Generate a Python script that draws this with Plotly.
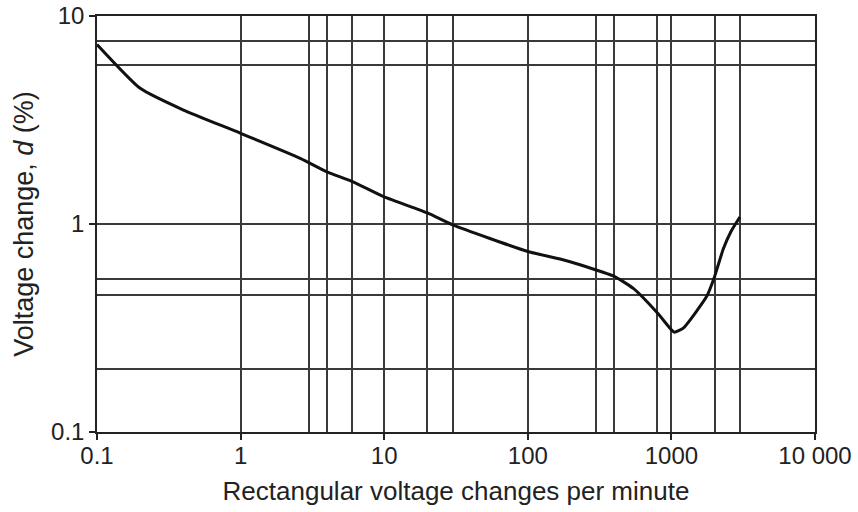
import plotly.graph_objects as go

# Curve
rate = [0.1, 0.2, 0.4, 1, 2.6, 4, 6, 10, 20, 30, 100, 168, 231, 400, 543, 800, 1000, 1050, 1210, 1762, 2000, 2300, 2600, 3000]
d_pct = [7.3, 4.49, 3.53, 2.73, 2.07, 1.78, 1.60, 1.35, 1.13, 0.99, 0.738, 0.679, 0.637, 0.56, 0.49, 0.373, 0.31, 0.302, 0.316, 0.449, 0.56, 0.76, 0.92, 1.08]

x_major = [0.1, 1, 10, 100, 1000, 10000]
x_major_text = ["0.1", "1", "10", "100", "1000", "10 000"]
x_minor = [3, 4, 6, 20, 30, 300, 400, 800, 2000, 3000]
y_major = [0.1, 1, 10]
y_major_text = ["0.1", "1", "10"]
y_minor = [0.2, 0.455, 0.545, 5.8, 7.6]

ink = "#222222"
grid = "#3a3a3a"
font = "Liberation Sans, Arial, sans-serif"

fig = go.Figure()
fig.add_trace(go.Scatter(x=rate, y=d_pct, mode="lines",
                         line=dict(color="#111111", width=3, shape="spline", smoothing=0.5),
                         showlegend=False, hoverinfo="skip"))

fig.update_xaxes(type="log", range=[-1, 4], automargin=False,
                 tickvals=x_major, ticktext=x_major_text,
                 ticks="outside", ticklen=6, tickcolor=ink, tickwidth=1.5,
                 ticklabelstandoff=-5,
                 showgrid=True, gridcolor=grid, gridwidth=1.5,
                 minor=dict(tickvals=x_minor, showgrid=True, gridcolor=grid, gridwidth=1.5, ticks=""),
                 showline=True, linecolor=ink, linewidth=1.5, mirror=True,
                 tickfont=dict(family=font, size=24, color=ink),
                 title=dict(text="Rectangular voltage changes per minute",
                            font=dict(family=font, size=26, color=ink), standoff=14),
                 zeroline=False)
fig.update_yaxes(type="log", range=[-1, 1], automargin=False,
                 tickvals=y_major, ticktext=y_major_text,
                 ticks="outside", ticklen=6, tickcolor=ink, tickwidth=1.5,
                 showgrid=True, gridcolor=grid, gridwidth=1.5,
                 minor=dict(tickvals=y_minor, showgrid=True, gridcolor=grid, gridwidth=1.5, ticks=""),
                 showline=True, linecolor=ink, linewidth=1.5, mirror=True,
                 tickfont=dict(family=font, size=24, color=ink),
                 title=dict(text="Voltage change, <i>d</i> (%)",
                            font=dict(family=font, size=27, color=ink), standoff=10),
                 zeroline=False)

fig.update_layout(width=858, height=512,
                  margin=dict(l=97, r=43, t=16, b=80),
                  paper_bgcolor="white", plot_bgcolor="white")

fig.write_html("out.html")
